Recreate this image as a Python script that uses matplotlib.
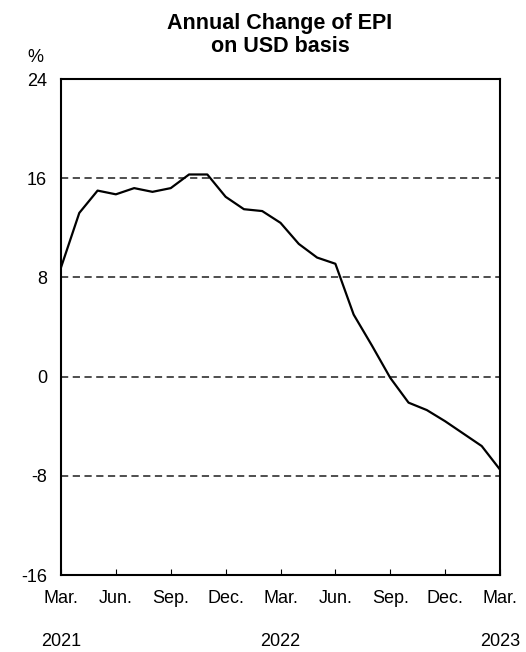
import numpy as np
import matplotlib.pyplot as plt

plt.rcParams['font.family'] = ['Liberation Sans', 'DejaVu Sans']
plt.rcParams['axes.unicode_minus'] = False

# monthly, Mar 2021 .. Mar 2023
months = np.arange(25)
epi_change = [8.8, 13.2, 15.0, 14.7, 15.2, 14.9, 15.2, 16.3, 16.3, 14.5,
              13.5, 13.35, 12.4, 10.7, 9.6, 9.1, 5.0, 2.5, -0.1, -2.1,
              -2.7, -3.6, -4.6, -5.6, -7.5]
tick_pos = [0, 3, 6, 9, 12, 15, 18, 21, 24]
tick_labels = ['Mar.', 'Jun.', 'Sep.', 'Dec.', 'Mar.', 'Jun.', 'Sep.', 'Dec.', 'Mar.']
year_pos = [0, 12, 24]
year_labels = ['2021', '2022', '2023']

fig = plt.figure(figsize=(5.26, 6.52), dpi=100)
ax = fig.add_axes([61 / 526, 1 - 575 / 652, 439 / 526, 496 / 652])

for y in [16, 8, 0, -8]:
    ax.axhline(y, color='#404040', linestyle=(0, (4, 2.5)), linewidth=1.3, zorder=1)
ax.plot(months, epi_change, color='black', linewidth=1.6, zorder=3)

ax.set_xlim(0, 24)
ax.set_ylim(-16, 24)
ax.set_yticks([-16, -8, 0, 8, 16, 24])
ax.set_xticks(tick_pos)
ax.set_xticklabels(tick_labels)
ax.tick_params(axis='x', direction='in', length=4, pad=11, labelsize=13)
ax.tick_params(axis='y', length=0, pad=10, labelsize=13)
for s in ax.spines.values():
    s.set_linewidth(1.5)

for p, lab in zip(year_pos, year_labels):
    ax.text(p, -(642 - 575) / 496, lab, transform=ax.get_xaxis_transform(),
            ha='center', va='center', fontsize=13)

fig.text(35 / 526, 1 - 58 / 652, '%', ha='center', va='center', fontsize=13)
fig.text(280 / 526, 1 - 35 / 652, 'Annual Change of EPI\non USD basis',
         ha='center', va='center', fontsize=15.5, fontweight='bold', linespacing=1.12)

fig.savefig('out.png', dpi=100)
